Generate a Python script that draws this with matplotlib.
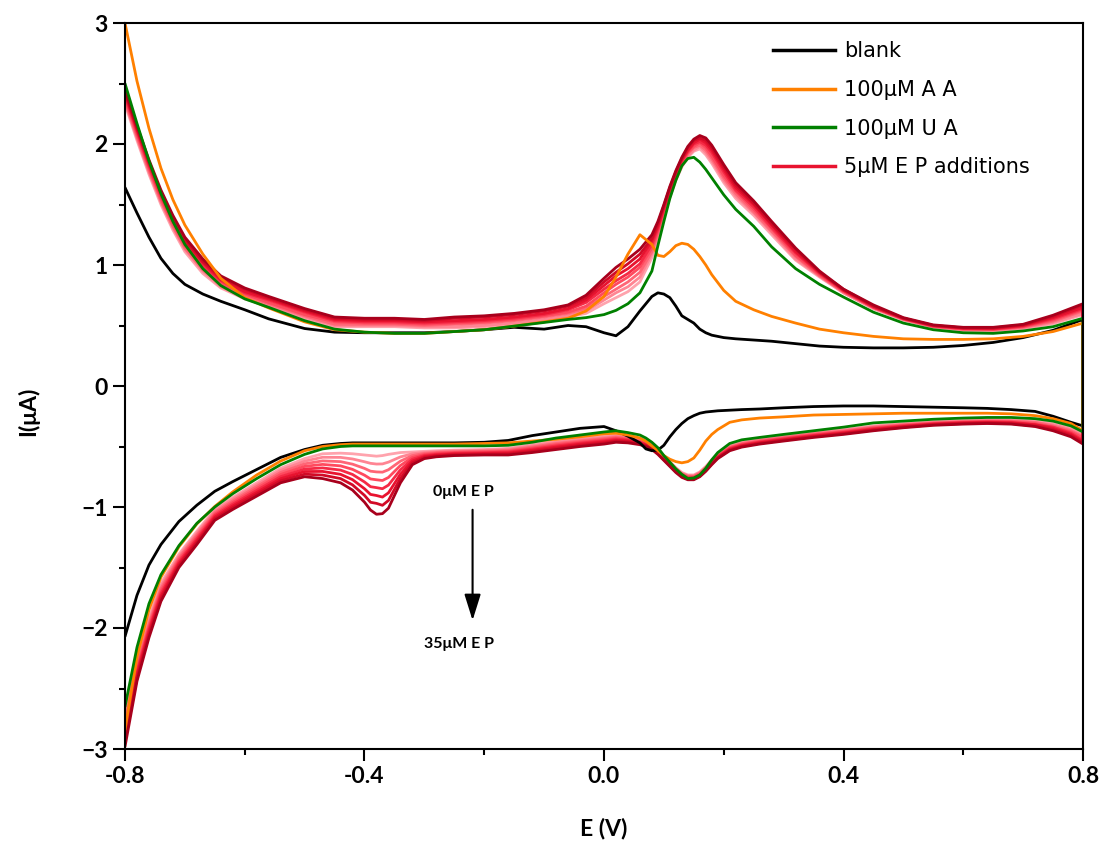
import numpy as np
import matplotlib
matplotlib.use("Agg")
import matplotlib.pyplot as plt
from matplotlib.lines import Line2D
from matplotlib.ticker import MultipleLocator, FormatStrFormatter

# potential grid of the anodic (upper) sweep, V
e_up = [-0.80, -0.78, -0.76, -0.74, -0.72, -0.70, -0.67, -0.64, -0.60, -0.56,
        -0.50, -0.45, -0.40, -0.35, -0.30, -0.25, -0.20, -0.15, -0.10, -0.06,
        -0.03, 0.00, 0.02, 0.04, 0.06, 0.08, 0.09, 0.10, 0.11, 0.12,
        0.13, 0.14, 0.15, 0.16, 0.17, 0.18, 0.20, 0.22, 0.25, 0.28,
        0.32, 0.36, 0.40, 0.45, 0.50, 0.55, 0.60, 0.65, 0.70, 0.75,
        0.80]
# potential grid of the cathodic (lower) sweep, V
e_dn = [0.80, 0.78, 0.75, 0.72, 0.68, 0.64, 0.60, 0.55, 0.50, 0.45,
        0.40, 0.35, 0.30, 0.26, 0.23, 0.21, 0.19, 0.18, 0.17, 0.16,
        0.15, 0.14, 0.13, 0.12, 0.11, 0.10, 0.09, 0.08, 0.07, 0.06,
        0.04, 0.02, 0.00, -0.04, -0.08, -0.12, -0.16, -0.20, -0.25, -0.28,
        -0.30, -0.32, -0.34, -0.36, -0.37, -0.38, -0.39, -0.40, -0.42, -0.44,
        -0.47, -0.50, -0.54, -0.58, -0.62, -0.65, -0.68, -0.71, -0.74, -0.76,
        -0.78, -0.80]

# currents in uA
blank_up = [1.64, 1.43, 1.23, 1.055, 0.93, 0.84, 0.76, 0.70, 0.63, 0.555,
            0.475, 0.445, 0.44, 0.44, 0.44, 0.45, 0.465, 0.485, 0.47, 0.50,
            0.49, 0.44, 0.415, 0.49, 0.62, 0.74, 0.77, 0.76, 0.73, 0.66,
            0.58, 0.55, 0.52, 0.47, 0.44, 0.42, 0.40, 0.39, 0.38, 0.37,
            0.35, 0.33, 0.32, 0.315, 0.315, 0.32, 0.335, 0.36, 0.40, 0.46,
            0.55]
blank_dn = [-0.33, -0.30, -0.25, -0.21, -0.195, -0.185, -0.18, -0.175, -0.17, -0.165,
            -0.165, -0.17, -0.18, -0.19, -0.195, -0.20, -0.205, -0.21, -0.215, -0.225,
            -0.245, -0.27, -0.31, -0.36, -0.42, -0.49, -0.53, -0.535, -0.52, -0.47,
            -0.415, -0.37, -0.335, -0.35, -0.38, -0.41, -0.45, -0.465, -0.47, -0.47,
            -0.47, -0.47, -0.47, -0.47, -0.47, -0.47, -0.47, -0.47, -0.47, -0.475,
            -0.49, -0.525, -0.59, -0.69, -0.79, -0.87, -0.985, -1.12, -1.31, -1.48,
            -1.73, -2.07]

aa_up = [3.00, 2.52, 2.13, 1.80, 1.54, 1.33, 1.09, 0.89, 0.73, 0.645,
         0.53, 0.465, 0.445, 0.435, 0.435, 0.45, 0.465, 0.495, 0.53, 0.56,
         0.62, 0.74, 0.90, 1.09, 1.25, 1.17, 1.08, 1.07, 1.11, 1.16,
         1.18, 1.17, 1.13, 1.07, 1.00, 0.92, 0.79, 0.70, 0.63, 0.575,
         0.52, 0.47, 0.44, 0.41, 0.39, 0.385, 0.385, 0.39, 0.41, 0.45,
         0.52]
aa_dn = [-0.37, -0.31, -0.27, -0.245, -0.23, -0.225, -0.225, -0.225, -0.225, -0.23,
         -0.235, -0.24, -0.255, -0.265, -0.28, -0.30, -0.36, -0.40, -0.455, -0.53,
         -0.595, -0.625, -0.635, -0.625, -0.605, -0.575, -0.535, -0.495, -0.455, -0.43,
         -0.405, -0.39, -0.395, -0.42, -0.44, -0.455, -0.47, -0.475, -0.48, -0.48,
         -0.48, -0.48, -0.48, -0.48, -0.48, -0.48, -0.48, -0.48, -0.48, -0.485,
         -0.50, -0.535, -0.62, -0.735, -0.875, -0.995, -1.14, -1.33, -1.58, -1.85,
         -2.24, -2.84]

ua_up = [2.50, 2.17, 1.86, 1.59, 1.36, 1.17, 0.97, 0.83, 0.72, 0.65,
         0.54, 0.47, 0.445, 0.435, 0.435, 0.45, 0.465, 0.495, 0.525, 0.55,
         0.565, 0.59, 0.625, 0.68, 0.77, 0.95, 1.16, 1.36, 1.55, 1.70,
         1.82, 1.88, 1.89, 1.85, 1.79, 1.72, 1.58, 1.46, 1.32, 1.15,
         0.97, 0.84, 0.735, 0.61, 0.52, 0.465, 0.44, 0.435, 0.455, 0.49,
         0.56]
ua_dn = [-0.38, -0.33, -0.29, -0.27, -0.26, -0.26, -0.265, -0.275, -0.29, -0.305,
         -0.34, -0.37, -0.40, -0.425, -0.445, -0.475, -0.55, -0.61, -0.68, -0.735,
         -0.76, -0.765, -0.73, -0.685, -0.63, -0.575, -0.51, -0.465, -0.43, -0.405,
         -0.385, -0.37, -0.38, -0.405, -0.43, -0.465, -0.49, -0.495, -0.495, -0.495,
         -0.495, -0.495, -0.495, -0.495, -0.495, -0.495, -0.495, -0.495, -0.495, -0.50,
         -0.52, -0.565, -0.65, -0.765, -0.89, -1.00, -1.135, -1.32, -1.56, -1.80,
         -2.16, -2.65]

# EP additions, 0 to 35 uM
ep00_up = [2.33, 2.03, 1.75, 1.50, 1.29, 1.11, 0.93, 0.81, 0.72, 0.66,
           0.56, 0.49, 0.49, 0.49, 0.48, 0.48, 0.49, 0.51, 0.54, 0.57,
           0.60, 0.68, 0.73, 0.78, 0.86, 1.06, 1.22, 1.40, 1.56, 1.70,
           1.81, 1.89, 1.94, 1.96, 1.91, 1.84, 1.68, 1.55, 1.41, 1.25,
           1.04, 0.90, 0.77, 0.64, 0.545, 0.485, 0.46, 0.455, 0.475, 0.515,
           0.59]
ep05_up = [2.35, 2.05, 1.77, 1.52, 1.31, 1.13, 0.95, 0.82, 0.73, 0.67,
           0.57, 0.50, 0.50, 0.50, 0.49, 0.49, 0.50, 0.52, 0.55, 0.58,
           0.62, 0.71, 0.77, 0.82, 0.90, 1.09, 1.24, 1.41, 1.57, 1.71,
           1.82, 1.90, 1.95, 1.98, 1.93, 1.86, 1.70, 1.57, 1.43, 1.27,
           1.05, 0.91, 0.77, 0.64, 0.55, 0.49, 0.465, 0.46, 0.48, 0.525,
           0.60]
ep10_up = [2.36, 2.06, 1.78, 1.53, 1.32, 1.14, 0.96, 0.84, 0.75, 0.68,
           0.58, 0.51, 0.51, 0.51, 0.50, 0.51, 0.52, 0.54, 0.57, 0.60,
           0.64, 0.74, 0.80, 0.86, 0.94, 1.11, 1.26, 1.43, 1.59, 1.72,
           1.83, 1.92, 1.97, 1.99, 1.95, 1.88, 1.72, 1.59, 1.44, 1.28,
           1.07, 0.91, 0.78, 0.65, 0.55, 0.49, 0.47, 0.465, 0.485, 0.535,
           0.62]
ep15_up = [2.38, 2.08, 1.80, 1.55, 1.34, 1.16, 0.98, 0.85, 0.76, 0.69,
           0.59, 0.53, 0.52, 0.52, 0.51, 0.52, 0.53, 0.55, 0.58, 0.61,
           0.66, 0.77, 0.84, 0.90, 0.98, 1.14, 1.28, 1.44, 1.60, 1.73,
           1.84, 1.93, 1.98, 2.01, 1.97, 1.90, 1.74, 1.61, 1.46, 1.30,
           1.08, 0.92, 0.78, 0.65, 0.555, 0.495, 0.47, 0.47, 0.49, 0.545,
           0.63]
ep20_up = [2.40, 2.10, 1.82, 1.57, 1.36, 1.18, 1.00, 0.87, 0.77, 0.71,
           0.61, 0.54, 0.53, 0.53, 0.52, 0.53, 0.54, 0.56, 0.59, 0.63,
           0.69, 0.80, 0.87, 0.93, 1.01, 1.17, 1.30, 1.46, 1.61, 1.75,
           1.86, 1.94, 2.00, 2.02, 1.99, 1.93, 1.77, 1.62, 1.48, 1.31,
           1.10, 0.93, 0.79, 0.65, 0.555, 0.495, 0.475, 0.47, 0.495, 0.555,
           0.64]
ep25_up = [2.42, 2.12, 1.84, 1.59, 1.38, 1.20, 1.02, 0.88, 0.78, 0.72,
           0.62, 0.55, 0.54, 0.54, 0.53, 0.54, 0.55, 0.57, 0.60, 0.64,
           0.71, 0.83, 0.91, 0.97, 1.05, 1.20, 1.32, 1.47, 1.62, 1.76,
           1.87, 1.95, 2.01, 2.04, 2.01, 1.95, 1.79, 1.64, 1.50, 1.33,
           1.11, 0.94, 0.79, 0.66, 0.56, 0.50, 0.48, 0.475, 0.50, 0.565,
           0.65]
ep30_up = [2.43, 2.13, 1.85, 1.60, 1.39, 1.21, 1.03, 0.90, 0.80, 0.73,
           0.63, 0.56, 0.55, 0.55, 0.54, 0.56, 0.57, 0.59, 0.62, 0.66,
           0.73, 0.86, 0.94, 1.01, 1.09, 1.22, 1.34, 1.49, 1.64, 1.77,
           1.88, 1.97, 2.03, 2.05, 2.03, 1.97, 1.81, 1.66, 1.51, 1.34,
           1.13, 0.94, 0.80, 0.66, 0.56, 0.50, 0.48, 0.48, 0.505, 0.575,
           0.67]
ep35_up = [2.45, 2.15, 1.87, 1.62, 1.41, 1.23, 1.05, 0.91, 0.81, 0.74,
           0.64, 0.57, 0.56, 0.56, 0.55, 0.57, 0.58, 0.60, 0.63, 0.67,
           0.75, 0.89, 0.98, 1.05, 1.13, 1.25, 1.36, 1.50, 1.65, 1.78,
           1.89, 1.98, 2.04, 2.07, 2.05, 1.99, 1.83, 1.68, 1.53, 1.36,
           1.14, 0.95, 0.80, 0.67, 0.565, 0.505, 0.485, 0.485, 0.51, 0.585,
           0.68]

ep00_dn = [-0.40, -0.35, -0.31, -0.29, -0.28, -0.28, -0.285, -0.295, -0.31, -0.33,
           -0.36, -0.385, -0.415, -0.44, -0.465, -0.495, -0.56, -0.61, -0.665, -0.71,
           -0.735, -0.735, -0.715, -0.675, -0.625, -0.575, -0.525, -0.485, -0.455, -0.435,
           -0.415, -0.405, -0.415, -0.435, -0.455, -0.485, -0.515, -0.525, -0.53, -0.535,
           -0.54, -0.545, -0.55, -0.565, -0.575, -0.58, -0.575, -0.57, -0.56, -0.555,
           -0.56, -0.60, -0.68, -0.80, -0.92, -1.02, -1.20, -1.39, -1.63, -1.92,
           -2.25, -2.68]
ep05_dn = [-0.41, -0.36, -0.32, -0.30, -0.285, -0.284, -0.29, -0.30, -0.315, -0.336,
           -0.366, -0.391, -0.421, -0.446, -0.471, -0.501, -0.566, -0.616, -0.671, -0.716,
           -0.741, -0.741, -0.721, -0.681, -0.631, -0.581, -0.531, -0.491, -0.461, -0.442,
           -0.423, -0.414, -0.424, -0.444, -0.465, -0.494, -0.523, -0.531, -0.536, -0.542,
           -0.549, -0.56, -0.586, -0.629, -0.644, -0.645, -0.639, -0.626, -0.603, -0.59,
           -0.589, -0.621, -0.697, -0.816, -0.934, -1.033, -1.216, -1.406, -1.651, -1.943,
           -2.277, -2.723]
ep10_dn = [-0.42, -0.37, -0.33, -0.30, -0.29, -0.289, -0.294, -0.304, -0.32, -0.341,
           -0.371, -0.396, -0.426, -0.451, -0.476, -0.506, -0.571, -0.621, -0.676, -0.721,
           -0.746, -0.746, -0.726, -0.686, -0.636, -0.586, -0.536, -0.496, -0.468, -0.449,
           -0.431, -0.422, -0.434, -0.454, -0.475, -0.504, -0.531, -0.538, -0.543, -0.549,
           -0.557, -0.575, -0.621, -0.692, -0.712, -0.71, -0.704, -0.681, -0.646, -0.625,
           -0.619, -0.643, -0.714, -0.831, -0.949, -1.046, -1.231, -1.421, -1.673, -1.966,
           -2.304, -2.766]
ep15_dn = [-0.43, -0.38, -0.34, -0.31, -0.295, -0.293, -0.298, -0.308, -0.325, -0.347,
           -0.377, -0.402, -0.432, -0.457, -0.482, -0.512, -0.577, -0.627, -0.682, -0.727,
           -0.752, -0.752, -0.732, -0.692, -0.642, -0.592, -0.542, -0.502, -0.474, -0.456,
           -0.439, -0.431, -0.443, -0.463, -0.485, -0.513, -0.539, -0.544, -0.549, -0.556,
           -0.566, -0.59, -0.657, -0.756, -0.781, -0.775, -0.768, -0.737, -0.689, -0.66,
           -0.648, -0.664, -0.731, -0.847, -0.963, -1.059, -1.247, -1.437, -1.694, -1.989,
           -2.331, -2.809]
ep20_dn = [-0.45, -0.39, -0.34, -0.32, -0.30, -0.297, -0.302, -0.312, -0.33, -0.353,
           -0.383, -0.408, -0.438, -0.463, -0.488, -0.518, -0.583, -0.633, -0.688, -0.733,
           -0.758, -0.758, -0.738, -0.698, -0.648, -0.598, -0.548, -0.508, -0.481, -0.464,
           -0.446, -0.439, -0.452, -0.472, -0.495, -0.522, -0.546, -0.551, -0.556, -0.564,
           -0.574, -0.605, -0.693, -0.819, -0.849, -0.84, -0.832, -0.793, -0.731, -0.695,
           -0.677, -0.686, -0.749, -0.863, -0.977, -1.071, -1.263, -1.453, -1.716, -2.011,
           -2.359, -2.851]
ep25_dn = [-0.46, -0.40, -0.35, -0.32, -0.305, -0.301, -0.306, -0.316, -0.335, -0.359,
           -0.389, -0.414, -0.444, -0.469, -0.494, -0.524, -0.589, -0.639, -0.694, -0.739,
           -0.764, -0.764, -0.744, -0.704, -0.654, -0.604, -0.554, -0.514, -0.487, -0.471,
           -0.454, -0.448, -0.461, -0.481, -0.505, -0.531, -0.554, -0.557, -0.562, -0.571,
           -0.583, -0.62, -0.729, -0.883, -0.918, -0.905, -0.896, -0.849, -0.774, -0.73,
           -0.706, -0.707, -0.766, -0.879, -0.991, -1.084, -1.279, -1.469, -1.737, -2.034,
           -2.386, -2.894]
ep30_dn = [-0.47, -0.41, -0.36, -0.33, -0.31, -0.306, -0.31, -0.32, -0.34, -0.364,
           -0.394, -0.419, -0.449, -0.474, -0.499, -0.529, -0.594, -0.644, -0.699, -0.744,
           -0.769, -0.769, -0.749, -0.709, -0.659, -0.609, -0.559, -0.519, -0.494, -0.478,
           -0.462, -0.456, -0.471, -0.491, -0.515, -0.541, -0.562, -0.564, -0.569, -0.578,
           -0.591, -0.635, -0.764, -0.946, -0.986, -0.97, -0.961, -0.904, -0.817, -0.765,
           -0.736, -0.729, -0.783, -0.894, -1.006, -1.097, -1.294, -1.484, -1.759, -2.057,
           -2.413, -2.937]
ep35_dn = [-0.48, -0.42, -0.37, -0.335, -0.315, -0.31, -0.315, -0.325, -0.345, -0.37,
           -0.40, -0.425, -0.455, -0.48, -0.505, -0.535, -0.60, -0.65, -0.705, -0.75,
           -0.775, -0.775, -0.755, -0.715, -0.665, -0.615, -0.565, -0.525, -0.50, -0.485,
           -0.47, -0.465, -0.48, -0.50, -0.525, -0.55, -0.57, -0.57, -0.575, -0.585,
           -0.60, -0.65, -0.80, -1.01, -1.055, -1.06, -1.025, -0.96, -0.86, -0.80,
           -0.765, -0.75, -0.80, -0.91, -1.02, -1.11, -1.31, -1.50, -1.78, -2.08,
           -2.44, -2.98]

ep_up = [ep00_up, ep05_up, ep10_up, ep15_up, ep20_up, ep25_up, ep30_up, ep35_up]
ep_dn = [ep00_dn, ep05_dn, ep10_dn, ep15_dn, ep20_dn, ep25_dn, ep30_dn, ep35_dn]
ep_colors = ['#ffa3ad', '#ff8593', '#ff6676', '#ff4a5e',
             '#f52a45', '#e8132f', '#d20a26', '#a8001c']

legend_labels = ['blank', '100\u03bcM A A', '100\u03bcM U A', '5\u03bcM E P additions']


def cycle(up, dn):
    # one closed voltammogram: anodic branch then cathodic branch
    return np.concatenate([e_up, e_dn]), np.concatenate([up, dn])


def main():
    plt.rcParams['font.family'] = ['Lato', 'DejaVu Sans']
    fig = plt.figure(figsize=(11.07, 8.5), dpi=100)
    ax = fig.add_axes([125/1107, 1 - 749/850, 958/1107, 726/850])

    kw = dict(lw=2.0, solid_joinstyle='round', solid_capstyle='round')
    for up, dn, c in zip(ep_up, ep_dn, ep_colors):
        x, y = cycle(up, dn)
        ax.plot(x, y, color=c, zorder=2, **kw)
    x, y = cycle(blank_up, blank_dn)
    ax.plot(x, y, color='black', zorder=3, **kw)
    x, y = cycle(aa_up, aa_dn)
    ax.plot(x, y, color='#ff8000', zorder=4, **kw)
    x, y = cycle(ua_up, ua_dn)
    ax.plot(x, y, color='#008000', zorder=5, **kw)

    ax.set_xlim(-0.8, 0.8)
    ax.set_ylim(-3, 3)
    ax.xaxis.set_major_locator(MultipleLocator(0.4))
    ax.xaxis.set_minor_locator(MultipleLocator(0.2))
    ax.xaxis.set_major_formatter(FormatStrFormatter('%.1f'))
    ax.yaxis.set_major_locator(MultipleLocator(1))
    ax.yaxis.set_minor_locator(MultipleLocator(0.5))
    ax.tick_params(which='major', direction='out', length=8.5, width=1.5,
                   labelsize=16.5, pad=4)
    ax.tick_params(which='minor', direction='out', length=4.5, width=1.5)
    for lab in ax.get_xticklabels() + ax.get_yticklabels():
        lab.set_fontweight('bold')
    for sp in ax.spines.values():
        sp.set_linewidth(1.5)
        sp.set_zorder(10)

    ax.set_xlabel('E (V)', fontsize=16.5, fontweight='bold')
    ax.xaxis.set_label_coords(0.5, -0.095)
    ax.set_ylabel('I(\u03bcA)', fontsize=16.5, fontweight='bold')
    ax.yaxis.set_label_coords(-0.09, 0.465)

    # EP addition arrow
    ax.text(-0.235, -0.88, '0\u03bcM E P', fontsize=11.5, fontweight='bold',
            ha='center', va='center')
    ax.text(-0.243, -2.13, '35\u03bcM E P', fontsize=11.5, fontweight='bold',
            ha='center', va='center')
    ax.annotate('', xy=(-0.2195, -1.96), xytext=(-0.2195, -1.0),
                arrowprops=dict(arrowstyle='-|>,head_length=0.8,head_width=0.25',
                                color='black', lw=1.5, mutation_scale=20))

    handles = [Line2D([], [], color='black', lw=2.5),
               Line2D([], [], color='#ff8000', lw=2.5),
               Line2D([], [], color='#008000', lw=2.5),
               Line2D([], [], color='#e8132f', lw=2.5)]
    ax.legend(handles, legend_labels, loc='upper left',
              bbox_to_anchor=(0.676, 0.975), frameon=False,
              prop={'family': 'DejaVu Sans', 'size': 15},
              handlelength=3.0, handletextpad=0.45, labelspacing=0.9,
              borderpad=0, borderaxespad=0)

    fig.savefig('out.png', dpi=100)


if __name__ == "__main__": main()
